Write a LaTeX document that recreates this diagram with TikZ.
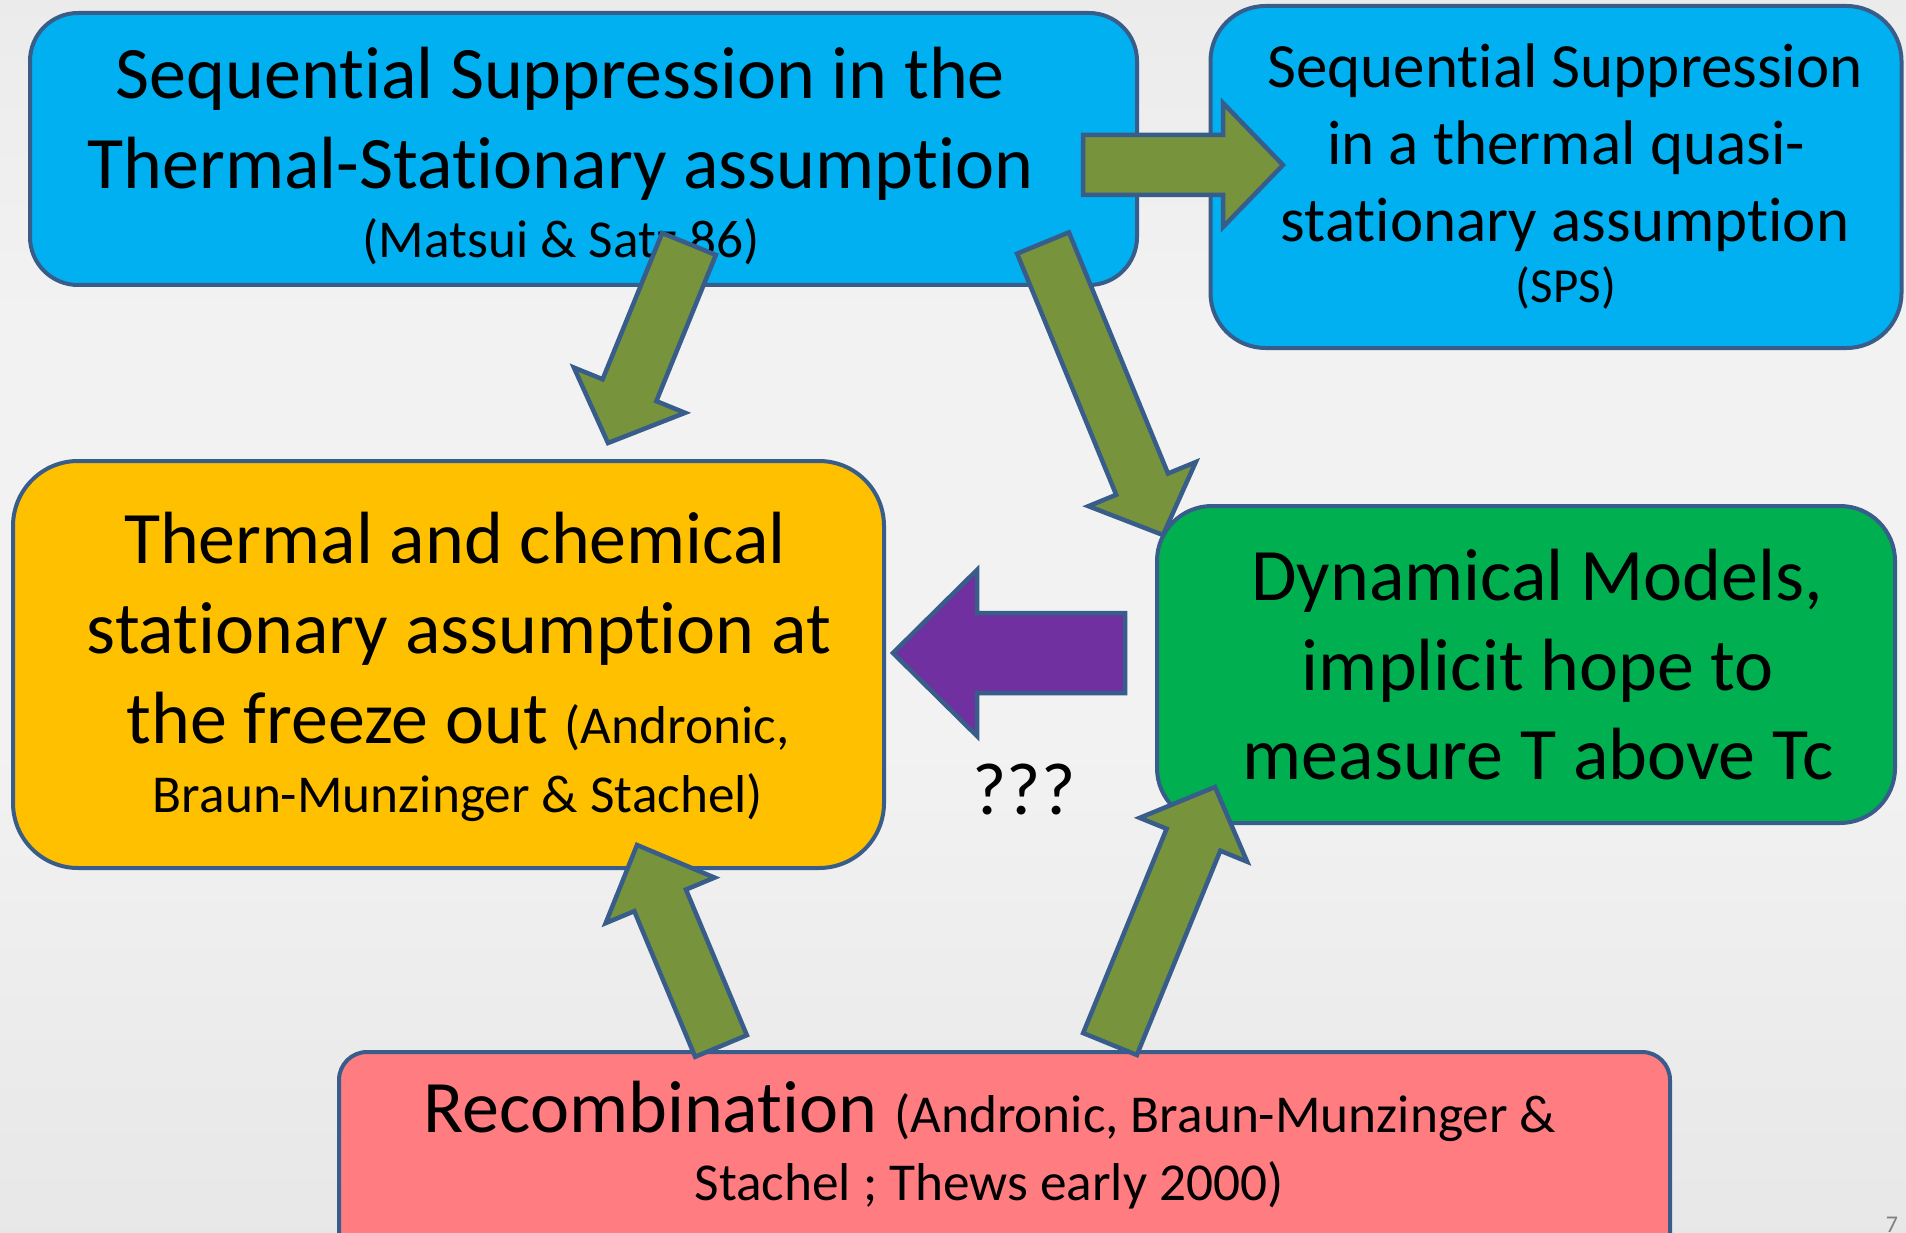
\documentclass[tikz,border=0pt]{standalone}
\usepackage{fontspec}
\setmainfont{Carlito}[Ligatures={CommonOff,ContextualOff},RawFeature={-liga;-clig;-calt;-dlig}]
\usetikzlibrary{calc}
\definecolor{frame}{RGB}{56,93,138}
\definecolor{sky}{RGB}{0,176,240}
\definecolor{amber}{RGB}{255,192,0}
\definecolor{leaf}{RGB}{0,176,80}
\definecolor{rose}{RGB}{255,124,128}
\definecolor{olive}{RGB}{119,147,60}
\definecolor{plum}{RGB}{112,48,160}
\definecolor{bgtop}{RGB}{222,222,222}
\definecolor{bgmid}{RGB}{242,242,242}
\definecolor{bgbot}{RGB}{218,218,218}
\pgfdeclareverticalshading{slidebg}{100bp}{color(0bp)=(bgbot); color(45bp)=(bgmid); color(62bp)=(bgmid); color(100bp)=(bgtop)}
\newcommand{\bigtext}{\fontsize{74}{90}\selectfont}
\newcommand{\midtext}{\fontsize{63}{77}\selectfont}
\newcommand{\smalltext}{\fontsize{53.3}{64}\selectfont}
\tikzset{
  box/.style={draw=frame,line width=4pt,inner sep=0pt},
  txtbig/.style={anchor=base,inner sep=0pt,font=\bigtext},
  txtmid/.style={anchor=base,inner sep=0pt,font=\midtext},
  txtsmall/.style={anchor=base,inner sep=0pt,font=\smalltext},
  blk/.style={draw=frame,line width=4.5pt,fill=#1},
}
% block arrow: tail, tip, shaft half width, head half width, head length, fill
\newcommand{\blockarrow}[6]{%
  \coordinate (ba-b) at ($(#2)!#5!(#1)$);
  \filldraw[blk=#6] ($(#1)!#3!90:(#2)$) -- ($(ba-b)!#3!-90:(#1)$) -- ($(ba-b)!#4!-90:(#1)$) -- (#2)
    -- ($(ba-b)!#4!90:(#1)$) -- ($(ba-b)!#3!90:(#1)$) -- ($(#1)!#3!-90:(#2)$) -- cycle;
}
\begin{document}
\begin{tikzpicture}[x=1pt,y=-1pt]
\useasboundingbox (0,0) rectangle (1906,1233);
\shade[shading=slidebg] (0,0) rectangle (1906,1233);

% boxes
\node[box,fill=sky,rounded corners=48pt,minimum width=1107pt,minimum height=272pt] (supp) at (583.5,149) {};
\node[box,fill=sky,rounded corners=55pt,minimum width=691pt,minimum height=342pt] (sps) at (1556,177) {};
\node[box,fill=amber,rounded corners=65pt,minimum width=871pt,minimum height=407pt] (therm) at (448.5,664.5) {};
\node[box,fill=leaf,rounded corners=55pt,minimum width=738pt,minimum height=317pt] (dyn) at (1526,664.5) {};
\node[box,fill=rose,rounded corners=28pt,minimum width=1331pt,minimum height=238pt] (reco) at (1004.5,1171) {};

% texts
\node[txtbig] (supp-1) at (560.5,99) {Sequential Suppression in the};
\node[txtbig] (supp-2) at (560.5,189) {Thermal-Stationary assumption};
\node[txtsmall] (supp-3) at (561,258) {(Matsui \& Satz 86)};

\node[txtmid] (sps-1) at (1565,88) {Sequential Suppression};
\node[txtmid] (sps-2) at (1566,165) {in a thermal quasi-};
\node[txtmid] (sps-3) at (1565,242) {stationary assumption};
\node[txtsmall,font=\fontsize{49}{58}\selectfont] (sps-4) at (1566,302) {(SPS)};

\node[txtbig] (therm-1) at (455,563) {Thermal and chemical};
\node[txtbig] (therm-2) at (459,653) {stationary assumption at};
\node[txtbig] (therm-3) at (458,743) {the freeze out {\smalltext(Andronic,}};
\node[txtsmall] (therm-4) at (458,812) {Braun-Munzinger \& Stachel)};

\node[txtbig] (dyn-1) at (1537,600) {Dynamical Models,};
\node[txtbig] (dyn-2) at (1538,690) {implicit hope to};
\node[txtbig] (dyn-3) at (1538,779) {measure T above Tc};

\node[txtbig] (reco-1) at (990,1132) {Recombination {\smalltext(Andronic, Braun-Munzinger \&}};
\node[txtsmall] (reco-2) at (989,1200) {Stachel ; Thews early 2000)};

\node[txtbig] (qqq) at (1024,814) {???};
\node[anchor=north,inner sep=0pt,text=gray,font=\fontsize{24}{24}\selectfont] (pageno) at (1892,1217) {7};

% arrows
\coordinate (a1) at (1083,165);  \coordinate (a1e) at (1283,165);
\coordinate (a2) at (689,244);   \coordinate (a2e) at (608,443);
\coordinate (a3) at (1043,243);  \coordinate (a3e) at (1163,535);
\coordinate (a4) at (1125,653);  \coordinate (a4e) at (893,653);
\coordinate (a5) at (721,1046);  \coordinate (a5e) at (637,845);
\coordinate (a6) at (1110,1044); \coordinate (a6e) at (1215,787);
\blockarrow{a1}{a1e}{30pt}{62pt}{60pt}{olive}
\blockarrow{a2}{a2e}{29pt}{60pt}{57pt}{olive}
\blockarrow{a3}{a3e}{28pt}{58pt}{55pt}{olive}
\blockarrow{a4}{a4e}{40pt}{83pt}{84pt}{plum}
\blockarrow{a5}{a5e}{28pt}{59pt}{60pt}{olive}
\blockarrow{a6}{a6e}{29pt}{58pt}{57pt}{olive}
\end{tikzpicture}
\end{document}
